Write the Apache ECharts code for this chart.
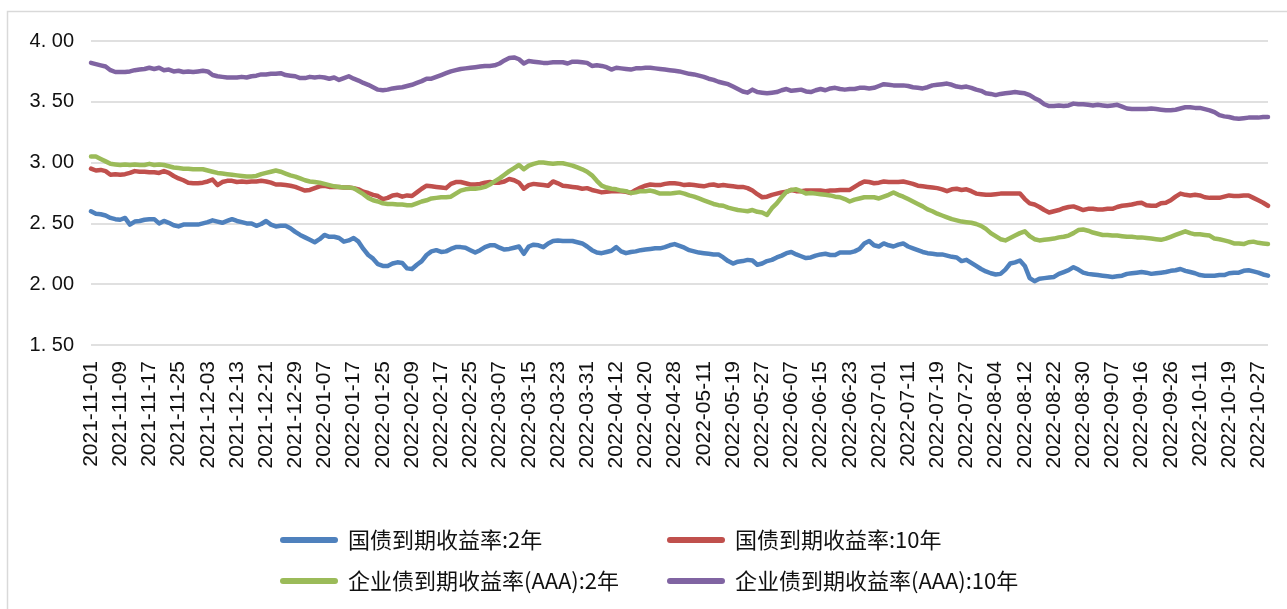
<!DOCTYPE html>
<html>
<head>
<meta charset="utf-8">
<script src="https://cdn.jsdelivr.net/npm/echarts@6/dist/echarts.min.js"></script>
<style>
  html, body { margin: 0; padding: 0; background: #fff; }
  #chart { width: 1287px; height: 609px; }
</style>
</head>
<body>
<div id="chart"></div>
<script>
// Weekday market closures (China) between Nov 2021 and Oct 2022
const holidays = [
  '2022-01-03', '2022-01-31', '2022-02-01', '2022-02-02', '2022-02-03', '2022-02-04',
  '2022-04-04', '2022-04-05', '2022-05-02', '2022-05-03', '2022-05-04', '2022-06-03',
  '2022-09-12', '2022-10-03', '2022-10-04', '2022-10-05', '2022-10-06', '2022-10-07'
];
const firstDay = '2021-11-01';
const lastDay = '2022-10-31';

const seriesNames = [
  '国债到期收益率:2年',
  '国债到期收益率:10年',
  '企业债到期收益率(AAA):2年',
  '企业债到期收益率(AAA):10年'
];

// 国债 2Y
const gov2y = [
  2.60, 2.58, 2.575, 2.565, 2.545, 2.535, 2.53, 2.545, 2.49, 2.515,
  2.52, 2.53, 2.535, 2.535, 2.50, 2.52, 2.505, 2.485, 2.475, 2.49,
  2.49, 2.49, 2.49, 2.50, 2.51, 2.525, 2.515, 2.505, 2.52, 2.535,
  2.52, 2.51, 2.50, 2.50, 2.48, 2.495, 2.52, 2.49, 2.475, 2.48,
  2.48, 2.46, 2.43, 2.405, 2.385, 2.365, 2.345, 2.37, 2.405, 2.39,
  2.39, 2.38, 2.35, 2.36, 2.38, 2.35, 2.29, 2.24, 2.21, 2.165,
  2.15, 2.15, 2.17, 2.18, 2.175, 2.13, 2.125, 2.16, 2.19, 2.24,
  2.27, 2.28, 2.265, 2.27, 2.29, 2.305, 2.305, 2.30, 2.28, 2.26,
  2.28, 2.305, 2.32, 2.32, 2.30, 2.285, 2.29, 2.30, 2.31, 2.25,
  2.31, 2.325, 2.32, 2.305, 2.335, 2.355, 2.36, 2.355, 2.355, 2.355,
  2.345, 2.335, 2.31, 2.28, 2.26, 2.255, 2.265, 2.275, 2.305, 2.27,
  2.255, 2.265, 2.27, 2.28, 2.285, 2.29, 2.295, 2.295, 2.305, 2.32,
  2.33, 2.315, 2.30, 2.28, 2.27, 2.26, 2.255, 2.25, 2.245, 2.245,
  2.22, 2.19, 2.17, 2.185, 2.19, 2.20, 2.195, 2.16, 2.17, 2.19,
  2.20, 2.22, 2.235, 2.255, 2.265, 2.245, 2.23, 2.215, 2.22, 2.235,
  2.245, 2.25, 2.24, 2.24, 2.26, 2.26, 2.26, 2.27, 2.29, 2.335,
  2.355, 2.32, 2.31, 2.335, 2.32, 2.31, 2.325, 2.335, 2.31, 2.295,
  2.28, 2.265, 2.255, 2.25, 2.245, 2.245, 2.235, 2.225, 2.22, 2.19,
  2.20, 2.175, 2.15, 2.125, 2.105, 2.09, 2.08, 2.085, 2.12, 2.17,
  2.18, 2.195, 2.15, 2.05, 2.025, 2.045, 2.05, 2.055, 2.06, 2.085,
  2.10, 2.115, 2.14, 2.12, 2.095, 2.085, 2.08, 2.075, 2.07, 2.065,
  2.06, 2.065, 2.07, 2.085, 2.09, 2.095, 2.10, 2.095, 2.085, 2.09,
  2.095, 2.10, 2.11, 2.115, 2.125, 2.11, 2.10, 2.09, 2.075, 2.07,
  2.07, 2.07, 2.075, 2.075, 2.09, 2.095, 2.095, 2.11, 2.115, 2.105,
  2.095, 2.08, 2.07
];

// 国债 10Y
const gov10y = [
  2.95, 2.935, 2.94, 2.93, 2.90, 2.905, 2.90, 2.905, 2.915, 2.93,
  2.925, 2.925, 2.92, 2.92, 2.915, 2.93, 2.915, 2.89, 2.87, 2.855,
  2.835, 2.83, 2.83, 2.835, 2.845, 2.86, 2.815, 2.84, 2.85, 2.85,
  2.84, 2.845, 2.84, 2.845, 2.845, 2.85, 2.845, 2.835, 2.82, 2.82,
  2.815, 2.81, 2.80, 2.785, 2.77, 2.775, 2.79, 2.805, 2.81, 2.80,
  2.80, 2.80, 2.795, 2.795, 2.79, 2.78, 2.76, 2.75, 2.735, 2.725,
  2.70, 2.71, 2.73, 2.735, 2.72, 2.73, 2.725, 2.755, 2.785, 2.81,
  2.805, 2.80, 2.795, 2.79, 2.825, 2.84, 2.84, 2.83, 2.82, 2.82,
  2.825, 2.835, 2.84, 2.835, 2.835, 2.845, 2.865, 2.855, 2.835, 2.785,
  2.815, 2.825, 2.82, 2.815, 2.81, 2.845, 2.83, 2.81, 2.805, 2.80,
  2.795, 2.785, 2.79, 2.775, 2.765, 2.755, 2.76, 2.765, 2.765, 2.765,
  2.76, 2.75, 2.775, 2.795, 2.81, 2.82, 2.815, 2.815, 2.825, 2.83,
  2.83, 2.825, 2.815, 2.82, 2.815, 2.81, 2.805, 2.815, 2.82, 2.81,
  2.815, 2.81, 2.805, 2.80, 2.80, 2.79, 2.77, 2.74, 2.715, 2.72,
  2.735, 2.745, 2.755, 2.76, 2.775, 2.765, 2.765, 2.77, 2.77, 2.77,
  2.77, 2.765, 2.77, 2.77, 2.775, 2.775, 2.775, 2.80, 2.825, 2.845,
  2.84, 2.83, 2.835, 2.845, 2.84, 2.84, 2.84, 2.845, 2.835, 2.825,
  2.81, 2.805, 2.80, 2.795, 2.79, 2.78, 2.765, 2.78, 2.785, 2.775,
  2.78, 2.765, 2.745, 2.74, 2.735, 2.735, 2.74, 2.745, 2.745, 2.745,
  2.745, 2.745, 2.70, 2.665, 2.655, 2.635, 2.61, 2.59, 2.60, 2.61,
  2.625, 2.635, 2.64, 2.625, 2.61, 2.62, 2.62, 2.615, 2.615, 2.62,
  2.62, 2.635, 2.645, 2.65, 2.655, 2.665, 2.67, 2.65, 2.645, 2.645,
  2.665, 2.67, 2.69, 2.72, 2.745, 2.735, 2.73, 2.735, 2.73, 2.715,
  2.71, 2.71, 2.71, 2.72, 2.73, 2.725, 2.725, 2.73, 2.73, 2.71,
  2.69, 2.67, 2.645
];

// 企业债 AAA 2Y
const corp2y = [
  3.05, 3.05, 3.03, 3.01, 2.99, 2.985, 2.98, 2.985, 2.98, 2.985,
  2.98, 2.98, 2.99, 2.98, 2.985, 2.98, 2.97, 2.96, 2.955, 2.95,
  2.95, 2.945, 2.945, 2.945, 2.935, 2.925, 2.915, 2.91, 2.905, 2.90,
  2.895, 2.89, 2.885, 2.885, 2.89, 2.905, 2.915, 2.925, 2.935, 2.925,
  2.91, 2.895, 2.885, 2.87, 2.855, 2.845, 2.84, 2.835, 2.825, 2.815,
  2.805, 2.80, 2.795, 2.795, 2.79, 2.765, 2.74, 2.71, 2.69, 2.68,
  2.665, 2.66, 2.66, 2.655, 2.655, 2.65, 2.65, 2.665, 2.68, 2.69,
  2.705, 2.71, 2.715, 2.715, 2.72, 2.745, 2.77, 2.78, 2.785, 2.785,
  2.79, 2.80, 2.82, 2.845, 2.87, 2.90, 2.93, 2.955, 2.98, 2.945,
  2.975, 2.99, 3.00, 3.00, 2.995, 2.99, 2.995, 2.995, 2.985, 2.975,
  2.96, 2.945, 2.925, 2.895, 2.85, 2.81, 2.795, 2.785, 2.78, 2.77,
  2.765, 2.75, 2.755, 2.765, 2.765, 2.77, 2.76, 2.745, 2.745, 2.745,
  2.75, 2.755, 2.745, 2.73, 2.72, 2.705, 2.69, 2.675, 2.66, 2.65,
  2.645, 2.63, 2.62, 2.61, 2.605, 2.60, 2.61, 2.595, 2.59, 2.57,
  2.625, 2.665, 2.715, 2.76, 2.775, 2.78, 2.765, 2.745, 2.75, 2.745,
  2.74, 2.735, 2.73, 2.72, 2.715, 2.70, 2.68, 2.695, 2.705, 2.715,
  2.715, 2.715, 2.705, 2.72, 2.735, 2.755, 2.735, 2.72, 2.70, 2.68,
  2.66, 2.64, 2.615, 2.60, 2.58, 2.565, 2.55, 2.535, 2.525, 2.515,
  2.51, 2.505, 2.495, 2.48, 2.455, 2.42, 2.395, 2.37, 2.36, 2.38,
  2.40, 2.42, 2.435, 2.395, 2.37, 2.36, 2.365, 2.37, 2.375, 2.385,
  2.39, 2.40, 2.42, 2.445, 2.45, 2.44, 2.425, 2.415, 2.405, 2.405,
  2.40, 2.40, 2.395, 2.39, 2.39, 2.385, 2.385, 2.38, 2.375, 2.37,
  2.365, 2.375, 2.39, 2.405, 2.42, 2.435, 2.42, 2.41, 2.41, 2.405,
  2.40, 2.375, 2.37, 2.36, 2.35, 2.335, 2.335, 2.33, 2.345, 2.35,
  2.34, 2.335, 2.33
];

// 企业债 AAA 10Y
const corp10y = [
  3.82, 3.81, 3.80, 3.79, 3.76, 3.745, 3.745, 3.745, 3.75, 3.76,
  3.765, 3.77, 3.78, 3.77, 3.78, 3.76, 3.765, 3.75, 3.755, 3.745,
  3.75, 3.745, 3.75, 3.755, 3.75, 3.72, 3.71, 3.705, 3.70, 3.70,
  3.70, 3.705, 3.70, 3.71, 3.715, 3.725, 3.725, 3.73, 3.73, 3.735,
  3.72, 3.715, 3.71, 3.695, 3.695, 3.705, 3.70, 3.705, 3.70, 3.69,
  3.70, 3.68, 3.695, 3.71, 3.69, 3.675, 3.655, 3.64, 3.62, 3.60,
  3.595, 3.60, 3.61, 3.615, 3.62, 3.63, 3.64, 3.655, 3.67, 3.69,
  3.69, 3.705, 3.72, 3.735, 3.75, 3.76, 3.77, 3.775, 3.78, 3.785,
  3.79, 3.795, 3.795, 3.80, 3.815, 3.84, 3.86, 3.865, 3.85, 3.815,
  3.835, 3.83, 3.825, 3.82, 3.82, 3.825, 3.825, 3.825, 3.815, 3.83,
  3.83, 3.825, 3.82, 3.795, 3.80, 3.795, 3.785, 3.765, 3.78, 3.775,
  3.77, 3.765, 3.775, 3.775, 3.78, 3.78, 3.775, 3.77, 3.765, 3.76,
  3.755, 3.75, 3.74, 3.73, 3.725, 3.715, 3.705, 3.69, 3.68, 3.665,
  3.655, 3.645, 3.625, 3.605, 3.585, 3.575, 3.60, 3.58, 3.575, 3.57,
  3.575, 3.58, 3.595, 3.605, 3.59, 3.595, 3.60, 3.585, 3.58, 3.595,
  3.605, 3.595, 3.61, 3.615, 3.605, 3.60, 3.605, 3.605, 3.615, 3.615,
  3.61, 3.615, 3.63, 3.645, 3.64, 3.635, 3.635, 3.635, 3.63, 3.62,
  3.615, 3.61, 3.62, 3.635, 3.64, 3.645, 3.65, 3.64, 3.625, 3.62,
  3.625, 3.615, 3.60, 3.59, 3.57, 3.565, 3.555, 3.565, 3.57, 3.575,
  3.58, 3.575, 3.57, 3.555, 3.53, 3.51, 3.48, 3.465, 3.465, 3.47,
  3.465, 3.47, 3.485, 3.48, 3.48, 3.475, 3.47, 3.475, 3.47, 3.465,
  3.47, 3.475, 3.46, 3.445, 3.44, 3.44, 3.44, 3.44, 3.445, 3.44,
  3.435, 3.43, 3.43, 3.435, 3.445, 3.455, 3.455, 3.45, 3.45, 3.44,
  3.43, 3.415, 3.39, 3.38, 3.375, 3.365, 3.36, 3.365, 3.37, 3.37,
  3.37, 3.375, 3.375
];

const colors = ['#4F81BD', '#C0504D', '#9BBB59', '#8064A2'];

// Build the list of trading days (weekdays that are not holidays)
function tradingDays(from, to, closed) {
  const out = [];
  let t = Date.parse(from + 'T00:00:00Z');
  const end = Date.parse(to + 'T00:00:00Z');
  while (t <= end) {
    const d = new Date(t);
    const wd = d.getUTCDay();
    const s = d.toISOString().slice(0, 10);
    if (wd !== 0 && wd !== 6 && closed.indexOf(s) < 0) out.push(s);
    t += 86400000;
  }
  return out;
}
const dates = tradingDays(firstDay, lastDay, holidays);

const chart = echarts.init(document.getElementById('chart'), null, { renderer: 'canvas' });

const legendIcon = 'path://M3,0 L55,0 A3,3 0 0 1 55,6 L3,6 A3,3 0 0 1 3,0 Z';
const legendText = {
  fontFamily: '"Noto Sans CJK SC", sans-serif',
  fontSize: 22,
  color: '#111',
  lineHeight: 26,
  padding: [0, 0, 0, 5]
};

function lineSeries(name, data, color) {
  return {
    name: name,
    type: 'line',
    data: data,
    symbol: 'none',
    showSymbol: false,
    animation: false,
    itemStyle: { color: color },
    lineStyle: { color: color, width: 4.5, cap: 'round', join: 'round' }
  };
}

chart.setOption({
  backgroundColor: '#ffffff',
  animation: false,
  color: colors,
  graphic: [{
    type: 'rect',
    silent: true,
    shape: { x: 7.5, y: 11.5, width: 1300, height: 700 },
    style: { fill: 'none', stroke: '#d9d9d9', lineWidth: 1.5 }
  }],
  grid: { left: 91, right: 19, top: 41, bottom: 264, containLabel: false },
  legend: [{
    orient: 'vertical',
    left: 275, top: 522,
    itemWidth: 58, itemHeight: 6, itemGap: 15,
    icon: legendIcon,
    data: [seriesNames[0], seriesNames[2]],
    textStyle: legendText
  }, {
    orient: 'vertical',
    left: 662, top: 522,
    itemWidth: 58, itemHeight: 6, itemGap: 15,
    icon: legendIcon,
    data: [seriesNames[1], seriesNames[3]],
    textStyle: legendText
  }],
  xAxis: {
    type: 'category',
    data: dates,
    boundaryGap: false,
    axisLine: { show: false },
    axisTick: { show: false },
    splitLine: { show: false },
    axisLabel: {
      interval: 5,
      rotate: 90,
      margin: 16,
      fontFamily: '"Liberation Sans", Arial, sans-serif',
      fontSize: 21,
      color: '#111'
    }
  },
  yAxis: {
    type: 'value',
    min: 1.5, max: 4, interval: 0.5,
    axisLine: { show: false },
    axisTick: { show: false },
    splitLine: { lineStyle: { color: '#d6d6d6', width: 1.5 } },
    axisLabel: {
      margin: 17,
      fontFamily: '"Liberation Sans", Arial, sans-serif',
      fontSize: 20,
      color: '#111',
      formatter: function (v) { return v.toFixed(2).replace('.', '. '); }
    }
  },
  series: [
    lineSeries(seriesNames[0], gov2y, colors[0]),
    lineSeries(seriesNames[1], gov10y, colors[1]),
    lineSeries(seriesNames[2], corp2y, colors[2]),
    lineSeries(seriesNames[3], corp10y, colors[3])
  ]
});
</script>
</body>
</html>
